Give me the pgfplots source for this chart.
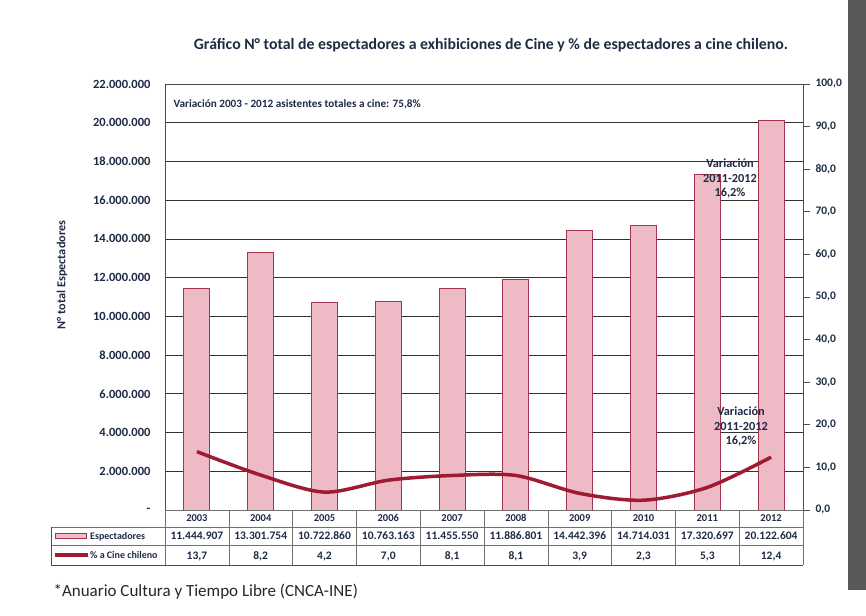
\documentclass[border=0pt]{standalone}
\usepackage{fontspec}
\setmainfont{Carlito}
\usepackage{pgfplots}
\pgfplotsset{compat=1.18}
\definecolor{barfill}{HTML}{EDBAC5}
\definecolor{barline}{HTML}{A3354F}
\definecolor{linecol}{HTML}{9E1B32}
\definecolor{textcol}{HTML}{1F2A44}
\definecolor{tablecol}{HTML}{707070}
\begin{document}
\begin{tikzpicture}[x=1pt,y=1pt, cell/.style={text=textcol, anchor=base}]
\path[use as bounding box] (0,0) rectangle (866,615);
\fill[black!65] (848,25) rectangle (866,615);
\begin{axis}[
  at={(165pt,105pt)}, anchor=south west, scale only axis,
  width=638pt, height=426pt,
  xmin=-0.5, xmax=9.5, ymin=0, ymax=22000000,
  xtick=\empty, scaled y ticks=false,
  ytick={0,2000000,4000000,6000000,8000000,10000000,12000000,14000000,16000000,18000000,20000000,22000000},
  yticklabels={-,2.000.000,4.000.000,6.000.000,8.000.000,10.000.000,12.000.000,14.000.000,16.000.000,18.000.000,20.000.000,22.000.000},
  ymajorgrids, grid style={black!80, line width=0.8pt},
  major tick length=0pt,
  axis line style={black!70, line width=0.8pt},
  yticklabel style={font=\bfseries\fontsize{12.5}{13}\selectfont, text=textcol, xshift=-11pt},
  clip=false,
]
\addplot[ybar, bar width=26pt, fill=barfill, draw=barline, line width=0.9pt] coordinates {
  (0,11444907) (1,13301754) (2,10722860) (3,10763163) (4,11455550)
  (5,11886801) (6,14442396) (7,14714031) (8,17320697) (9,20122604)};
\end{axis}
\begin{axis}[
  at={(165pt,105pt)}, anchor=south west, scale only axis,
  width=638pt, height=426pt,
  xmin=-0.5, xmax=9.5, ymin=0, ymax=100,
  axis x line=none, axis y line*=right,
  ytick={0,10,20,30,40,50,60,70,80,90,100},
  yticklabels={{0,0},{10,0},{20,0},{30,0},{40,0},{50,0},{60,0},{70,0},{80,0},{90,0},{100,0}},
  tick align=outside, major tick length=7pt,
  ytick style={black!70, line width=0.8pt},
  axis line style={black!70, line width=0.8pt},
  yticklabel style={font=\bfseries\fontsize{11.5}{12}\selectfont, text=textcol, xshift=2pt},
]
\addplot[linecol, line width=3.5pt, smooth, no markers] coordinates {
  (0,13.7) (1,8.2) (2,4.2) (3,7.0) (4,8.1) (5,8.1) (6,3.9) (7,2.3) (8,5.3) (9,12.4)};
\end{axis}
% title and labels
\node[font=\bfseries\fontsize{15.8}{17}\selectfont, text=textcol] at (491,570) {Gráfico N° total de espectadores a exhibiciones de Cine y \% de espectadores a cine chileno.};
\node[rotate=90, font=\bfseries\fontsize{12.2}{14}\selectfont, text=textcol] at (62,340) {N° total Espectadores};
\node[anchor=west, font=\bfseries\fontsize{11.2}{13}\selectfont, text=textcol] at (170,511) {Variación 2003 - 2012 asistentes totales a cine: 75,8\%};
\node[align=center, font=\bfseries\fontsize{12.3}{14.5}\selectfont, text=textcol] at (730,436) {Variación\\2011-2012\\16,2\%};
\node[align=center, font=\bfseries\fontsize{12.3}{14.5}\selectfont, text=textcol] at (741,188) {Variación\\2011-2012\\16,2\%};
% data table
\foreach \i in {0,...,10} {\draw[tablecol, line width=0.6pt] ({165+63.8*\i},105) -- ({165+63.8*\i},50);}
\draw[tablecol, line width=0.6pt] (165,105) -- (803,105);
\draw[tablecol, line width=0.6pt] (51,88) -- (803,88);
\draw[tablecol, line width=0.6pt] (51,70) -- (803,70);
\draw[black!70, line width=0.8pt] (51,50) -- (803,50);
\draw[black!70, line width=0.8pt] (51,88) -- (51,50);
\foreach \v [count=\i from 0] in {2003,2004,2005,2006,2007,2008,2009,2010,2011,2012}
  {\node[cell, font=\bfseries\fontsize{10.5}{12}\selectfont] at ({165+63.8*(\i+0.5)},93) {\v};}
\foreach \v [count=\i from 0] in {11.444.907,13.301.754,10.722.860,10.763.163,11.455.550,11.886.801,14.442.396,14.714.031,17.320.697,20.122.604}
  {\node[cell, font=\bfseries\fontsize{11.5}{12}\selectfont] at ({165+63.8*(\i+0.5)},75) {\v};}
\foreach \v [count=\i from 0] in {{13,7},{8,2},{4,2},{7,0},{8,1},{8,1},{3,9},{2,3},{5,3},{12,4}}
  {\node[cell, font=\bfseries\fontsize{11.5}{12}\selectfont] at ({165+63.8*(\i+0.5)},56) {\v};}
\draw[fill=barfill, draw=barline, line width=0.9pt] (55,76.5) rectangle (86,81.5);
\draw[linecol, line width=3.5pt] (55,60) -- (88,60);
\node[anchor=base west, font=\bfseries\fontsize{10}{12}\selectfont, text=textcol, inner sep=0pt] at (90,75.5) {Espectadores};
\node[anchor=base west, font=\bfseries\fontsize{10}{12}\selectfont, text=textcol, inner sep=0pt] at (90,56.5) {\% a Cine chileno};
\node[anchor=west, font=\fontsize{17}{19}\selectfont, text=black!85] at (50,23) {*Anuario Cultura y Tiempo Libre (CNCA-INE)};
\end{tikzpicture}
\end{document}
